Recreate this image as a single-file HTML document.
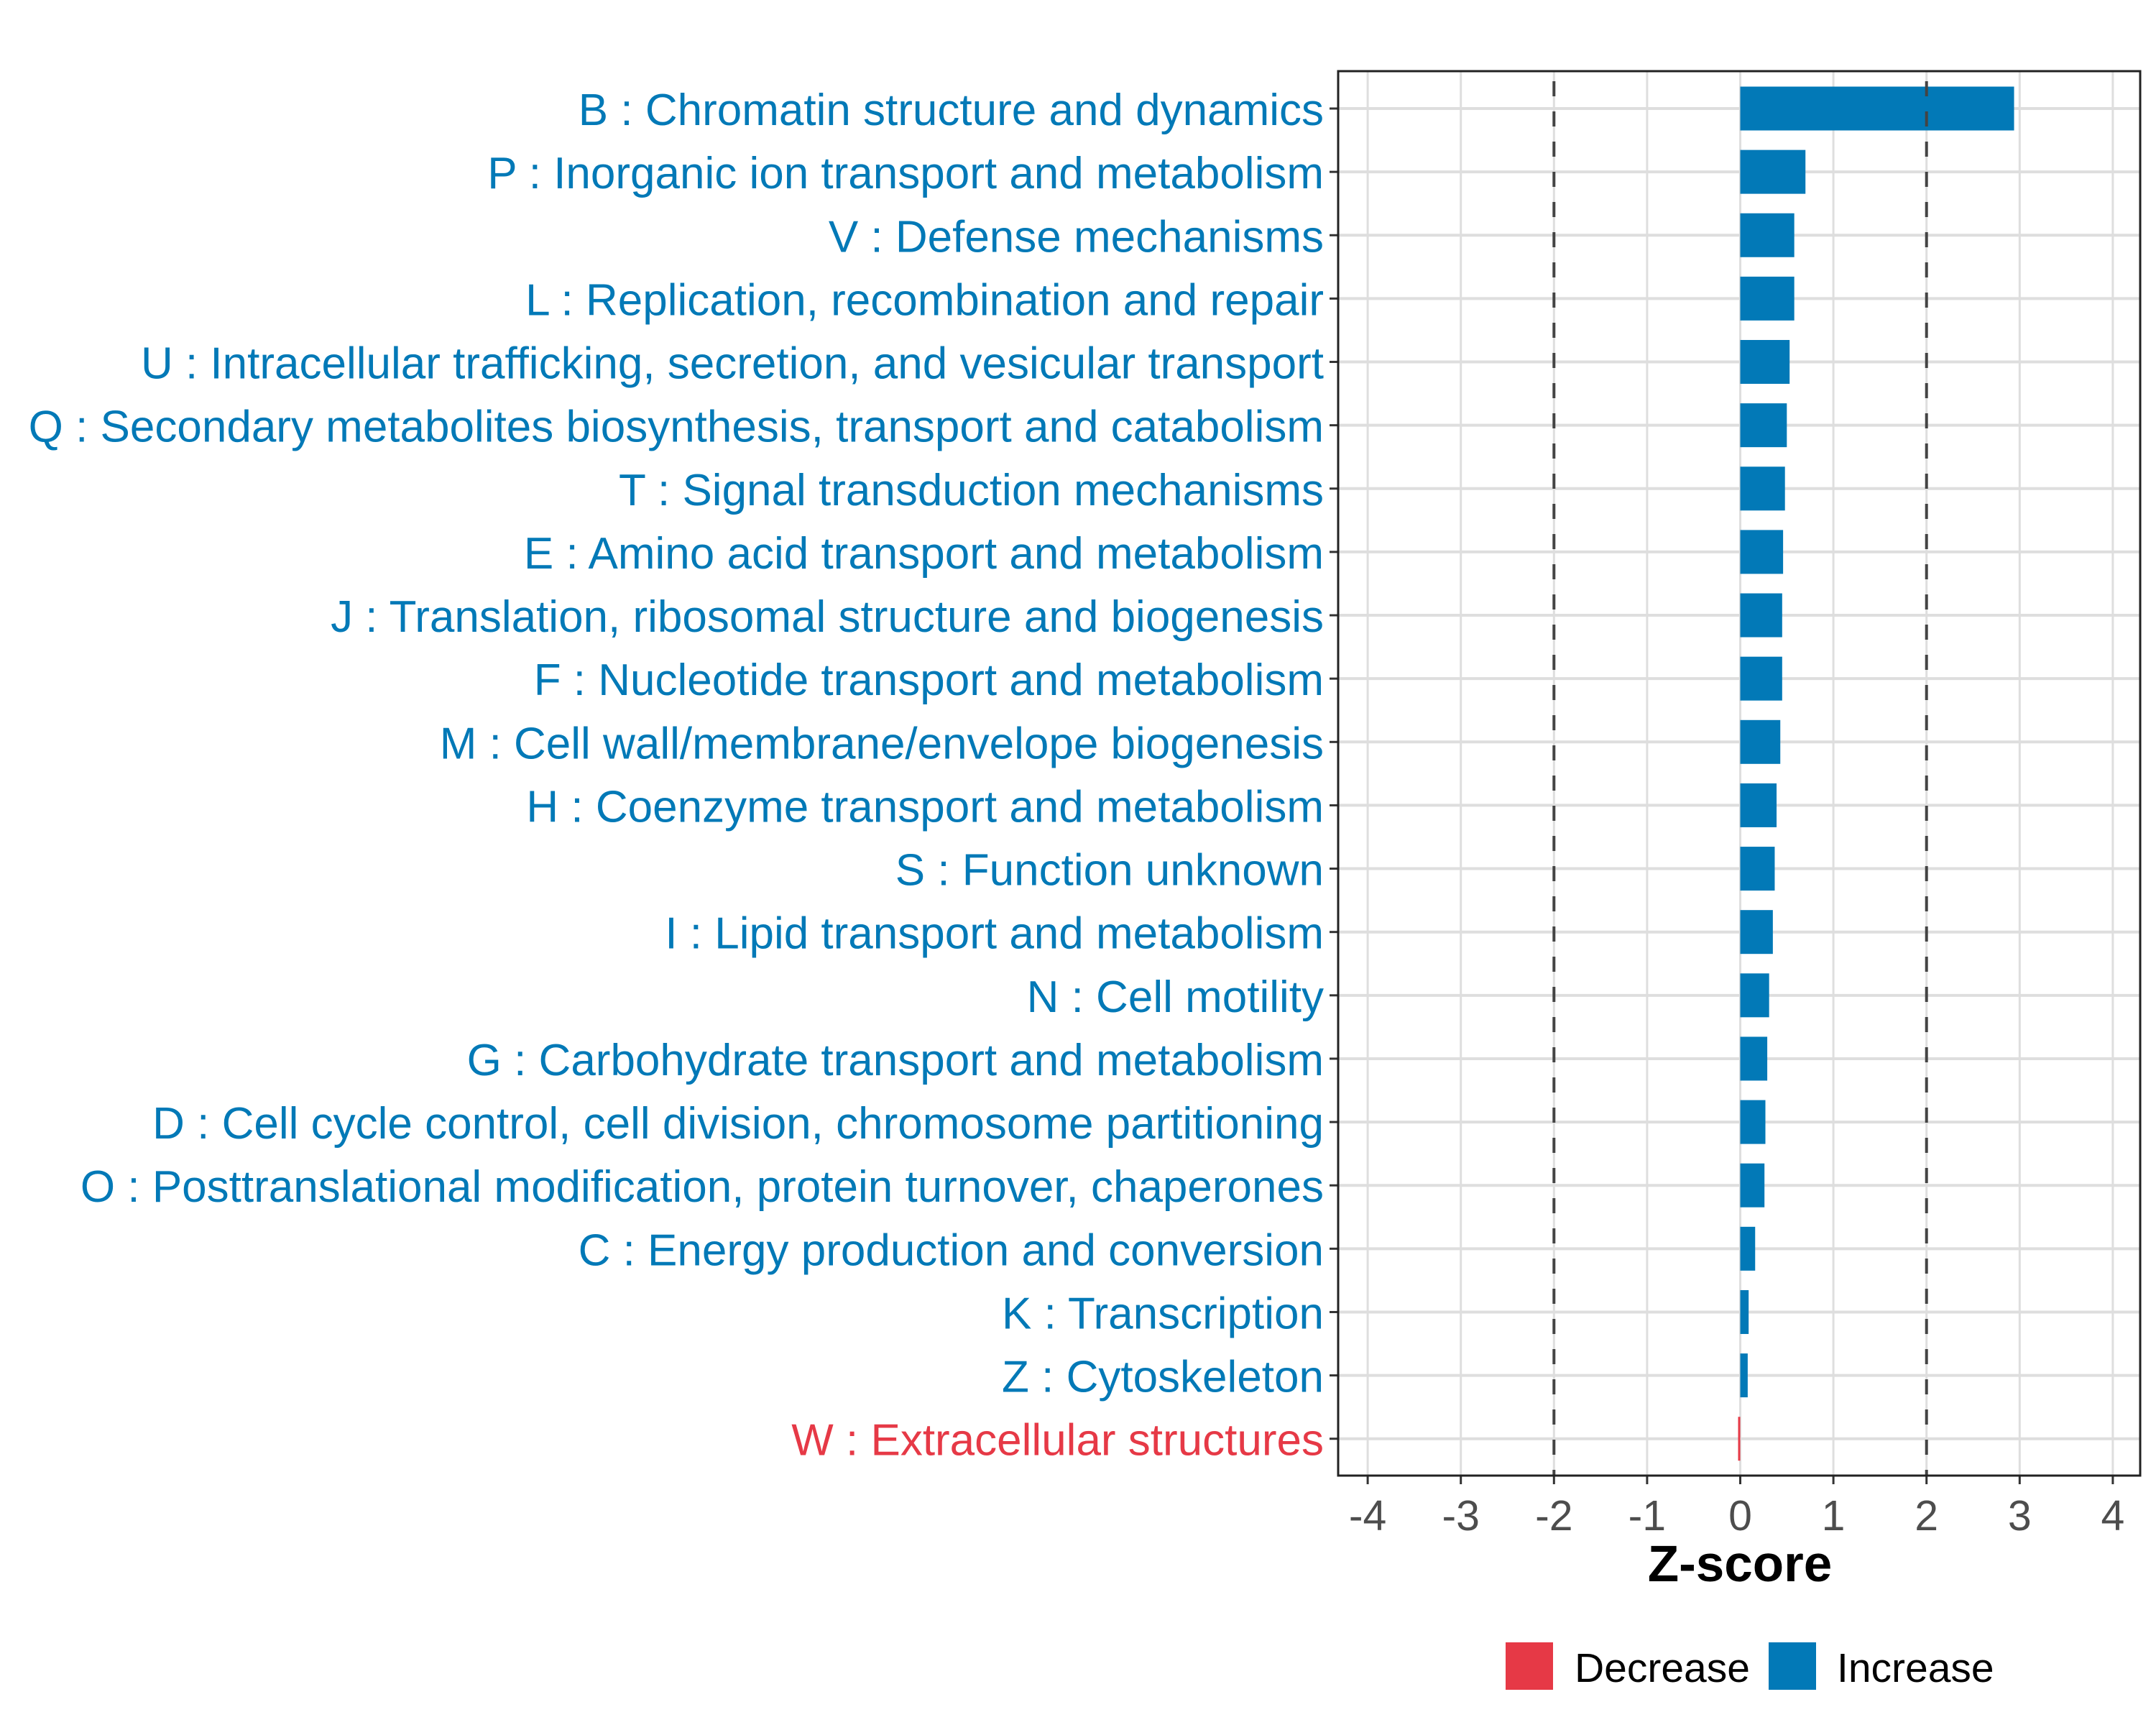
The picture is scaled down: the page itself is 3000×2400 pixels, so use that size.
<!DOCTYPE html>
<html><head><meta charset="utf-8"><style>
html,body{margin:0;padding:0;background:#fff;}
svg{display:block;font-family:"Liberation Sans",Arial,sans-serif;}
</style></head><body>
<svg id="chart" width="3000" height="2400" viewBox="0 0 3000 2400" xmlns="http://www.w3.org/2000/svg">
<rect x="0" y="0" width="3000" height="2400" fill="#fff"/>
<g id="grid"></g>
<g id="bars"></g>
<g id="ylabels"></g>
<g id="xaxis"></g>
<rect x="1862" y="99" width="1116" height="1954" fill="none" stroke="#222" stroke-width="3"/>
<text x="2421" y="2200" font-size="71" font-weight="bold" text-anchor="middle" fill="#000">Z-score</text>
<g>
  <rect x="2095" y="2285" width="66" height="66" fill="#E63946"/>
  <text x="2191" y="2340" font-size="57" fill="#000">Decrease</text>
  <rect x="2461" y="2285" width="66" height="66" fill="#0279B7"/>
  <text x="2556" y="2340" font-size="57" fill="#000">Increase</text>
</g>
</svg>
<script>
const categories = [
"B : Chromatin structure and dynamics",
"P : Inorganic ion transport and metabolism",
"V : Defense mechanisms",
"L : Replication, recombination and repair",
"U : Intracellular trafficking, secretion, and vesicular transport",
"Q : Secondary metabolites biosynthesis, transport and catabolism",
"T : Signal transduction mechanisms",
"E : Amino acid transport and metabolism",
"J : Translation, ribosomal structure and biogenesis",
"F : Nucleotide transport and metabolism",
"M : Cell wall/membrane/envelope biogenesis",
"H : Coenzyme transport and metabolism",
"S : Function unknown",
"I : Lipid transport and metabolism",
"N : Cell motility",
"G : Carbohydrate transport and metabolism",
"D : Cell cycle control, cell division, chromosome partitioning",
"O : Posttranslational modification, protein turnover, chaperones",
"C : Energy production and conversion",
"K : Transcription",
"Z : Cytoskeleton",
"W : Extracellular structures"
];
const zscores = [2.94,0.70,0.58,0.58,0.53,0.50,0.48,0.46,0.45,0.45,0.43,0.39,0.37,0.35,0.31,0.29,0.27,0.26,0.16,0.09,0.08,-0.01];
const xTicks = [-4,-3,-2,-1,0,1,2,3,4];
const thresholds = [-2,2];

const NS="http://www.w3.org/2000/svg";
const X0=2421.5, UNIT=129.6, Y0=151, STEP=88.13, BARH=61;
const PL=1862, PR=2978, PT=99, PB=2053;
function xs(v){return X0+v*UNIT;}
function ys(i){return Y0+i*STEP;}
function mk(tag,attrs,parent){const e=document.createElementNS(NS,tag);for(const k in attrs)e.setAttribute(k,attrs[k]);parent.appendChild(e);return e;}
const grid=document.getElementById('grid'),bars=document.getElementById('bars'),yl=document.getElementById('ylabels'),xa=document.getElementById('xaxis');
xTicks.forEach(t=>{
  const l=mk('line',{x1:xs(t),x2:xs(t),y1:PT,y2:PB,stroke:'#DEDEDE','stroke-width':3},grid);
  
  
  const tk=mk('line',{x1:xs(t),x2:xs(t),y1:PB,y2:PB+12,stroke:'#333','stroke-width':3},xa);
  
  
  const tx=mk('text',{x:xs(t),y:PB+76,'font-size':59,'text-anchor':'middle',fill:'#4D4D4D'},xa);
  tx.textContent=String(t);
  
  
});
categories.forEach((c,i)=>{
  const l=mk('line',{x1:PL,x2:PR,y1:ys(i),y2:ys(i),stroke:'#DEDEDE','stroke-width':4},grid);
  
  
  const tk=mk('line',{x1:PL-12,x2:PL,y1:ys(i),y2:ys(i),stroke:'#333','stroke-width':3},yl);
  
  
  const v=zscores[i];
  const col=v<0?'#E63946':'#0279B7';
  const x1=Math.min(xs(0),xs(v)), w=Math.max(Math.abs(xs(v)-xs(0)),3);
  const b=mk('rect',{x:v<0?xs(0)-w:x1,y:ys(i)-BARH/2,width:w,height:BARH,fill:col},bars);
  
  
  const t=mk('text',{x:1842,y:ys(i)+23,'font-size':62,'text-anchor':'end',fill:col},yl);
  t.textContent=c;
  
  
});
thresholds.forEach(t=>{
  const l=mk('line',{x1:xs(t),x2:xs(t),y1:PT,y2:PB,stroke:'#444','stroke-width':4,'stroke-dasharray':'21 21','stroke-dashoffset':'-14'},bars);
  
  
});
</script>
</body></html>
